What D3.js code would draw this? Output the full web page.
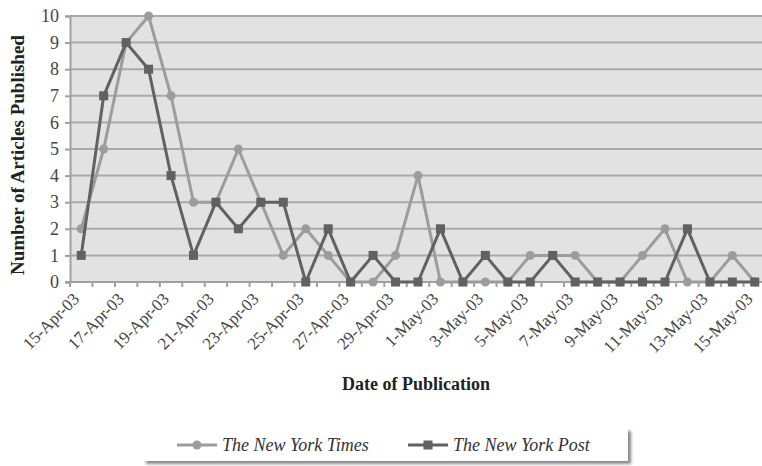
<!DOCTYPE html>
<html>
<head>
<meta charset="utf-8">
<script src="https://cdn.jsdelivr.net/npm/d3@7"></script>
<style>
  body { margin: 0; background: #fff; }
  svg { display: block; }
  svg text { font-family: "Liberation Serif", "DejaVu Serif", serif; }
</style>
</head>
<body>
<svg id="chart"></svg>
<script>
// days 15-Apr-03 .. 15-May-03
const dates = ["15-Apr-03","16-Apr-03","17-Apr-03","18-Apr-03","19-Apr-03","20-Apr-03","21-Apr-03","22-Apr-03",
  "23-Apr-03","24-Apr-03","25-Apr-03","26-Apr-03","27-Apr-03","28-Apr-03","29-Apr-03","30-Apr-03",
  "1-May-03","2-May-03","3-May-03","4-May-03","5-May-03","6-May-03","7-May-03","8-May-03",
  "9-May-03","10-May-03","11-May-03","12-May-03","13-May-03","14-May-03","15-May-03"];
const nytValues  = [2,5,9,10,7,3,3,5,3,1,2,1,0,0,1,4,0,0,0,0,1,1,1,0,0,1,2,0,0,1,0];
const postValues = [1,7,9,8,4,1,3,2,3,3,0,2,0,1,0,0,2,0,1,0,0,1,0,0,0,0,0,2,0,0,0];
const yTicks = [0,1,2,3,4,5,6,7,8,9,10];
const seriesNames = ["The New York Times", "The New York Post"];

const config = {
  width: 762, height: 466,
  left: 70, top: 16, bottom: 282, right: 766,
  nytColor: "#9c9c9c", postColor: "#616161"
};

const svg = d3.select("#chart")
  .attr("width", config.width)
  .attr("height", config.height);

const x = d3.scaleBand().domain(dates).range([config.left, config.right]);
const y = d3.scaleLinear().domain([0, 10]).range([config.bottom, config.top]);

// plot background
svg.append("rect")
  .attr("x", config.left).attr("y", y(10))
  .attr("width", config.width - config.left).attr("height", y(0) - y(10))
  .attr("fill", "#e2e2e2");

// gridlines
svg.append("g")
  .selectAll("line")
  .data(yTicks.filter(d => d > 0))
  .join("line")
  .attr("x1", config.left).attr("x2", config.width)
  .attr("y1", d => y(d)).attr("y2", d => y(d))
  .attr("stroke", "#a9a9a9")
  .attr("stroke-width", 2);

// y axis
const yAxis = d3.axisLeft(y).tickValues(yTicks).tickSize(5).tickPadding(6);
svg.append("g")
  .attr("transform", `translate(${config.left},0)`)
  .call(yAxis)
  .attr("font-family", null)
  .call(g => g.select(".domain").attr("stroke", "#a0a0a0").attr("stroke-width", 2))
  .call(g => g.selectAll(".tick line").attr("stroke", "#a0a0a0").attr("stroke-width", 2))
  .call(g => g.selectAll(".tick text").attr("font-size", 18).attr("fill", "#444"));

// x axis: ticks between categories
const xTickPos = dates.map(d => x(d));
svg.append("line")
  .attr("x1", config.left - 5).attr("x2", config.width)
  .attr("y1", y(0)).attr("y2", y(0))
  .attr("stroke", "#a0a0a0").attr("stroke-width", 2);
svg.append("g")
  .selectAll("line")
  .data(xTickPos)
  .join("line")
  .attr("x1", d => d).attr("x2", d => d)
  .attr("y1", y(0) - 1).attr("y2", y(0) + 5)
  .attr("stroke", "#a0a0a0").attr("stroke-width", 2);

svg.append("g")
  .selectAll("text")
  .data(dates.filter((d, i) => i % 2 === 0))
  .join("text")
  .attr("transform", d => `translate(${x(d) + x.bandwidth() / 2 - 1},${y(0) + 18}) rotate(-45)`)
  .attr("text-anchor", "end")
  .attr("font-size", 17)
  .attr("fill", "#444")
  .text(d => d);

// axis titles
svg.append("text")
  .attr("x", 416).attr("y", 390)
  .attr("text-anchor", "middle")
  .attr("font-size", 18).attr("font-weight", "bold").attr("fill", "#222")
  .text("Date of Publication");

svg.append("text")
  .attr("transform", "translate(24,155) rotate(-90)")
  .attr("text-anchor", "middle")
  .attr("font-size", 19).attr("font-weight", "bold").attr("fill", "#222")
  .text("Number of Articles Published");

// series
const cx = (d, i) => x(dates[i]) + x.bandwidth() / 2;
const line = d3.line().x(cx).y(d => y(d));

const series = [
  {name: seriesNames[0], values: nytValues, color: config.nytColor, shape: "circle"},
  {name: seriesNames[1], values: postValues, color: config.postColor, shape: "square"}
];

series.forEach(s => {
  svg.append("path")
    .datum(s.values)
    .attr("fill", "none")
    .attr("stroke", s.color)
    .attr("stroke-width", 3)
    .attr("stroke-linejoin", "round")
    .attr("d", line);

  if (s.shape === "circle") {
    svg.append("g").selectAll("circle")
      .data(s.values)
      .join("circle")
      .attr("cx", cx).attr("cy", d => y(d))
      .attr("r", 4.5)
      .attr("fill", s.color);
  } else {
    svg.append("g").selectAll("rect")
      .data(s.values)
      .join("rect")
      .attr("x", (d, i) => cx(d, i) - 4.5).attr("y", d => y(d) - 4.5)
      .attr("width", 9).attr("height", 9)
      .attr("fill", s.color);
  }
});

// legend
const defs = svg.append("defs");
defs.append("filter").attr("id", "shadow")
  .attr("x", "-5%").attr("y", "-20%").attr("width", "115%").attr("height", "160%")
  .append("feGaussianBlur").attr("stdDeviation", 1.5);

const legend = svg.append("g");
legend.append("rect")
  .attr("x", 146).attr("y", 431).attr("width", 485).attr("height", 33)
  .attr("fill", "#888").attr("filter", "url(#shadow)");
legend.append("rect")
  .attr("x", 143).attr("y", 428).attr("width", 485).attr("height", 33)
  .attr("fill", "#fff");

const legendItems = [
  {x: 177, s: series[0]},
  {x: 408, s: series[1]}
];
legendItems.forEach(item => {
  const g = legend.append("g").attr("transform", `translate(${item.x},445)`);
  g.append("line").attr("x1", 0).attr("x2", 40)
    .attr("stroke", item.s.color).attr("stroke-width", 3);
  if (item.s.shape === "circle") {
    g.append("circle").attr("cx", 20).attr("r", 4.5).attr("fill", item.s.color);
  } else {
    g.append("rect").attr("x", 15.5).attr("y", -4.5).attr("width", 9).attr("height", 9)
      .attr("fill", item.s.color);
  }
  g.append("text")
    .attr("x", 45).attr("y", 6)
    .attr("font-size", 18).attr("font-style", "italic").attr("fill", "#333")
    .text(item.s.name);
});
</script>
</body>
</html>
